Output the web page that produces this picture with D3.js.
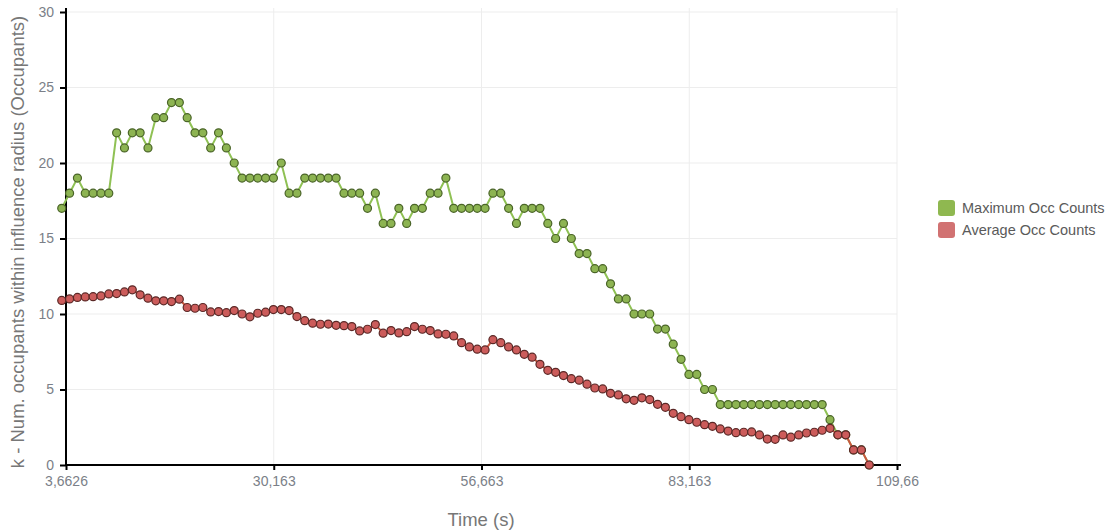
<!DOCTYPE html>
<html>
<head>
<meta charset="utf-8">
<script src="https://cdn.jsdelivr.net/npm/d3@7"></script>
<style>
  html, body { margin: 0; padding: 0; background: #fff; }
  svg { display: block; font-family: "Liberation Sans", Arial, sans-serif; }
</style>
</head>
<body>
<svg id="chart" width="1107" height="532"></svg>
<script>
// Sample times (s)
const times = [
  3.12, 4.12, 5.12, 6.12, 7.12, 8.12, 9.12, 10.12, 11.12, 12.12, 13.12, 14.12, 15.12,
  16.12, 17.12, 18.12, 19.12, 20.12, 21.12, 22.12, 23.12, 24.12, 25.12, 26.12, 27.12, 28.12,
  29.12, 30.12, 31.12, 32.12, 33.12, 34.12, 35.12, 36.12, 37.12, 38.12, 39.12, 40.12, 41.12,
  42.12, 43.12, 44.12, 45.12, 46.12, 47.12, 48.12, 49.12, 50.12, 51.12, 52.12, 53.12, 54.12,
  55.12, 56.12, 57.12, 58.12, 59.12, 60.12, 61.12, 62.12, 63.12, 64.12, 65.12, 66.12, 67.12,
  68.12, 69.12, 70.12, 71.12, 72.12, 73.12, 74.12, 75.12, 76.12, 77.12, 78.12, 79.12, 80.12,
  81.12, 82.12, 83.12, 84.12, 85.12, 86.12, 87.12, 88.12, 89.12, 90.12, 91.12, 92.12, 93.12,
  94.12, 95.12, 96.12, 97.12, 98.12, 99.12, 100.12, 101.12, 102.12, 103.12, 104.12, 105.12, 106.12
];

// Maximum occupant count within the influence radius
const maxOcc = [
  17, 18, 19, 18, 18, 18, 18, 22, 21, 22, 22, 21, 23,
  23, 24, 24, 23, 22, 22, 21, 22, 21, 20, 19, 19, 19,
  19, 19, 20, 18, 18, 19, 19, 19, 19, 19, 18, 18, 18,
  17, 18, 16, 16, 17, 16, 17, 17, 18, 18, 19, 17, 17,
  17, 17, 17, 18, 18, 17, 16, 17, 17, 17, 16, 15, 16,
  15, 14, 14, 13, 13, 12, 11, 11, 10, 10, 10, 9, 9,
  8, 7, 6, 6, 5, 5, 4, 4, 4, 4, 4, 4, 4,
  4, 4, 4, 4, 4, 4, 4, 3, 2, 2, 1, 1, 0
];

// Average occupant count within the influence radius
const avgOcc = [
  10.9, 11.0, 11.1, 11.13, 11.15, 11.2, 11.33, 11.35, 11.46, 11.6, 11.27, 11.05, 10.87,
  10.87, 10.82, 10.98, 10.43, 10.38, 10.43, 10.14, 10.16, 10.09, 10.23, 10.0, 9.81, 10.05,
  10.12, 10.29, 10.29, 10.23, 9.83, 9.56, 9.39, 9.32, 9.33, 9.25, 9.23, 9.17, 8.88,
  8.99, 9.3, 8.73, 8.9, 8.75, 8.83, 9.17, 8.99, 8.9, 8.68, 8.66, 8.55, 8.1,
  7.82, 7.67, 7.62, 8.3, 8.1, 7.82, 7.62, 7.33, 7.14, 6.67, 6.27, 6.14, 5.92,
  5.72, 5.62, 5.35, 5.1, 5.04, 4.75, 4.64, 4.38, 4.28, 4.45, 4.33, 4.02, 3.82,
  3.42, 3.2, 3.0, 2.83, 2.67, 2.56, 2.39, 2.25, 2.14, 2.17, 2.19, 1.99, 1.72,
  1.7, 1.99, 1.84, 1.99, 2.12, 2.17, 2.3, 2.43, 2.0, 2.0, 1.0, 1.0, 0
];

const xTickValues = [3.6626, 30.1626, 56.6626, 83.1626, 109.6626];
const xTickLabels = ["3,6626", "30,163", "56,663", "83,163", "109,66"];
const yTickValues = [0, 5, 10, 15, 20, 25, 30];

const seriesNames = ["Maximum Occ Counts", "Average Occ Counts"];

const svg = d3.select("#chart");
const plot = { left: 66, right: 897, top: 12, bottom: 465 };

const x = d3.scaleLinear().domain([3.6626, 109.6626]).range([plot.left, plot.right]);
const y = d3.scaleLinear().domain([0, 30]).range([plot.bottom, plot.top]);

// Grid
const grid = svg.append("g");
grid.selectAll("line.h").data(yTickValues.filter(v => v > 0)).join("line")
  .attr("x1", plot.left).attr("x2", plot.right)
  .attr("y1", d => y(d)).attr("y2", d => y(d))
  .attr("stroke", "#ededed").attr("stroke-width", 1);
grid.selectAll("line.v").data(xTickValues.slice(1)).join("line")
  .attr("x1", d => x(d)).attr("x2", d => x(d))
  .attr("y1", plot.top - 4).attr("y2", plot.bottom)
  .attr("stroke", "#ededed").attr("stroke-width", 1);

// Axes
const xAxis = d3.axisBottom(x).tickValues(xTickValues)
  .tickFormat((d, i) => xTickLabels[i]).tickSizeOuter(0).tickSize(5).tickPadding(6);
const yAxis = d3.axisLeft(y).tickValues(yTickValues).tickSizeOuter(0).tickSize(6).tickPadding(6);

const gx = svg.append("g").attr("transform", `translate(0,${plot.bottom})`).call(xAxis);
gx.select(".domain").attr("d", `M${plot.left - 1},0H${plot.right + 4}`)
  .attr("stroke", "#000").attr("stroke-width", 2);
const gy = svg.append("g").attr("transform", `translate(${plot.left},0)`).call(yAxis);
gy.select(".domain").attr("d", `M0,${plot.bottom + 1}V${plot.top - 4}`)
  .attr("stroke", "#000").attr("stroke-width", 2);

[gx, gy].forEach(g => {
  g.selectAll(".tick line").attr("stroke", "#000").attr("stroke-width", 2);
  g.selectAll(".tick text").attr("fill", "#7b7f88")
    .style("font-size", "14px").style("font-family", "'Liberation Sans', Arial, sans-serif");
});

// Axis titles
svg.append("text")
  .attr("x", 481).attr("y", 526)
  .attr("text-anchor", "middle")
  .attr("fill", "#777").style("font-size", "18.5px")
  .text("Time (s)");
svg.append("text")
  .attr("transform", "translate(24,242) rotate(-90)")
  .attr("text-anchor", "middle")
  .attr("fill", "#777").style("font-size", "18.5px")
  .text("k - Num. occupants within influence radius (Occupants)");

// Series
const series = [
  { name: seriesNames[0], values: maxOcc, line: "#8fc154", fill: "#8db452", stroke: "#4a6428", key: "#8fb850" },
  { name: seriesNames[1], values: avgOcc, line: "#c9573f", fill: "#cc5c5b", stroke: "#5a2826", key: "#d17272" }
];

const lineGen = d3.line().x(d => x(d.t)).y(d => y(d.v));

series.forEach(s => {
  const pts = times.map((t, i) => ({ t, v: s.values[i] }));
  const g = svg.append("g");
  g.append("path").datum(pts)
    .attr("d", lineGen).attr("fill", "none")
    .attr("stroke", s.line).attr("stroke-width", 2);
  g.selectAll("circle").data(pts).join("circle")
    .attr("cx", d => x(d.t)).attr("cy", d => y(d.v)).attr("r", 4)
    .attr("fill", s.fill).attr("stroke", s.stroke).attr("stroke-width", 1.2);
});

// Legend
const legend = svg.append("g").attr("transform", "translate(938,200)");
series.forEach((s, i) => {
  const row = legend.append("g").attr("transform", `translate(0,${i * 22})`);
  row.append("rect").attr("width", 17).attr("height", 16).attr("rx", 3)
    .attr("fill", s.key);
  row.append("text").attr("x", 24).attr("y", 13)
    .attr("fill", "#5a5a5a").style("font-size", "14.5px")
    .text(s.name);
});
</script>
</body>
</html>
